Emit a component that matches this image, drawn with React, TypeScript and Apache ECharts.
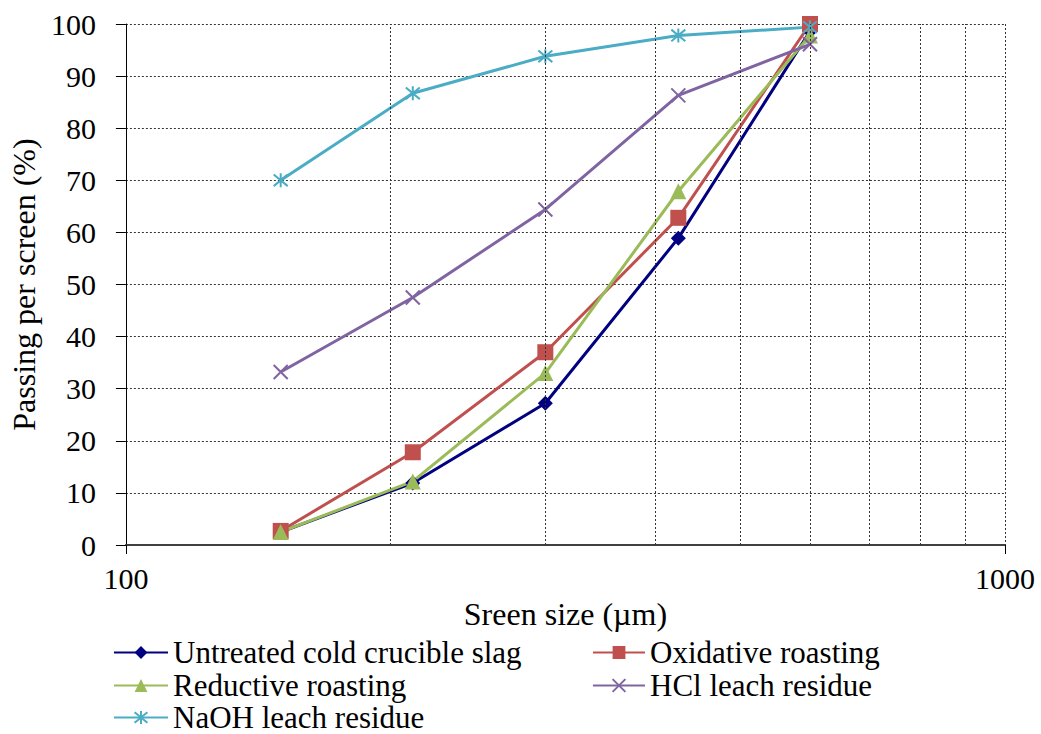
import React, { useEffect, useRef } from "react";
import * as echarts from "echarts";

const screenSizes = [150, 212, 300, 425, 600];
const untreated = [2.5, 11.9, 27.2, 58.9, 98.6];
const oxidative = [2.7, 17.8, 37.0, 62.8, 100];
const reductive = [2.5, 12.2, 33.0, 67.9, 97.8];
const hclResidue = [33.2, 47.5, 64.4, 86.3, 96.1];
const naohResidue = [70.0, 86.7, 93.8, 97.8, 99.4];
const minorGridValues = [200, 300, 400, 500, 600, 700, 800, 900];

const seriesNames = [
  "Untreated cold crucible slag",
  "Oxidative roasting",
  "Reductive roasting",
  "HCl leach residue",
  "NaOH leach residue",
];

const FONT = "Times New Roman, Liberation Serif, serif";
const xPath = "path://M0,0L10,10M10,0L0,10";
const starPath = "path://M0,0L10,10M10,0L0,10M5,-1L5,11";

function pairs(ys: number[]) {
  return screenSizes.map((x, i) => [x, ys[i]]);
}

export default function App() {
  const ref = useRef<HTMLDivElement>(null);
  useEffect(() => {
    document.body.style.margin = "0";
    if (!ref.current) return;
    const chart = echarts.init(ref.current, null, { renderer: "svg" });
    const lineSeries = (name: string, data: number[], color: string, symbol: string, size: number, stroke = false) => ({
      name,
      type: "line",
      data: pairs(data),
      symbol,
      symbolSize: size,
      z: 3,
      lineStyle: { color, width: 3 },
      itemStyle: stroke
        ? { color, borderColor: color, borderWidth: 2 }
        : { color, borderWidth: 0 },
    });
    const legendItem = (name: string, left: number, top: number, w: number) => ({
      data: [name],
      orient: "horizontal",
      left,
      top,
      padding: 0,
      itemWidth: w,
      itemHeight: 16,
      textStyle: { fontFamily: FONT, fontSize: 31, color: "#000", lineHeight: 31 },
    });
    chart.setOption({
      animation: false,
      backgroundColor: "#fff",
      textStyle: { fontFamily: FONT, color: "#000" },
      grid: { left: 117, right: 36, top: 24, bottom: 189, containLabel: false },
      xAxis: {
        type: "log",
        logBase: 10,
        min: 100,
        max: 1000,
        name: "Sreen size (\u00b5m)",
        nameLocation: "middle",
        nameGap: 45,
        nameTextStyle: { fontFamily: FONT, fontSize: 32, color: "#000", verticalAlign: "top" },
        axisLine: { show: true, onZero: false, lineStyle: { color: "#404040", width: 2 } },
        axisTick: { show: true, inside: false, length: 9, lineStyle: { color: "#000" } },
        axisLabel: {
          fontFamily: FONT,
          fontSize: 30,
          color: "#000",
          margin: 18,
          formatter: (v: number) => String(Math.round(v)),
        },
        splitLine: { show: true, lineStyle: { color: "#333", type: [2, 2], width: 1 } },
      },
      yAxis: {
        type: "value",
        min: 0,
        max: 100,
        interval: 10,
        name: "Passing per screen (%)",
        nameLocation: "middle",
        nameGap: 74,
        nameTextStyle: { fontFamily: FONT, fontSize: 32, color: "#000" },
        axisLine: { show: true, lineStyle: { color: "#000", width: 1 } },
        axisTick: { show: true, inside: false, length: 10, lineStyle: { color: "#000" } },
        axisLabel: { fontFamily: FONT, fontSize: 30, color: "#000", margin: 30 },
        splitLine: { show: true, lineStyle: { color: "#333", type: [2, 2], width: 1 } },
      },
      legend: [
        legendItem(seriesNames[0], 113, 637, 54),
        legendItem(seriesNames[2], 113, 670, 54),
        legendItem(seriesNames[4], 113, 702, 54),
        legendItem(seriesNames[1], 592, 637, 52),
        legendItem(seriesNames[3], 592, 670, 52),
      ],
      series: [
        {
          name: "_grid",
          type: "line",
          data: [],
          z: 1,
          silent: true,
          markLine: {
            silent: true,
            symbol: ["none", "none"],
            label: { show: false },
            lineStyle: { color: "#333", type: [2, 2], width: 1 },
            data: minorGridValues.map((v) => ({ xAxis: v })),
          },
        },
        lineSeries(seriesNames[0], untreated, "#000080", "diamond", 15),
        lineSeries(seriesNames[1], oxidative, "#C0504D", "rect", 16),
        lineSeries(seriesNames[2], reductive, "#9BBB59", "triangle", 16),
        lineSeries(seriesNames[3], hclResidue, "#8064A2", xPath, 14, true),
        lineSeries(seriesNames[4], naohResidue, "#4BACC6", starPath, 14, true),
      ],
    });
    return () => chart.dispose();
  }, []);
  return <div ref={ref} style={{ width: 1041, height: 734 }} />;
}
